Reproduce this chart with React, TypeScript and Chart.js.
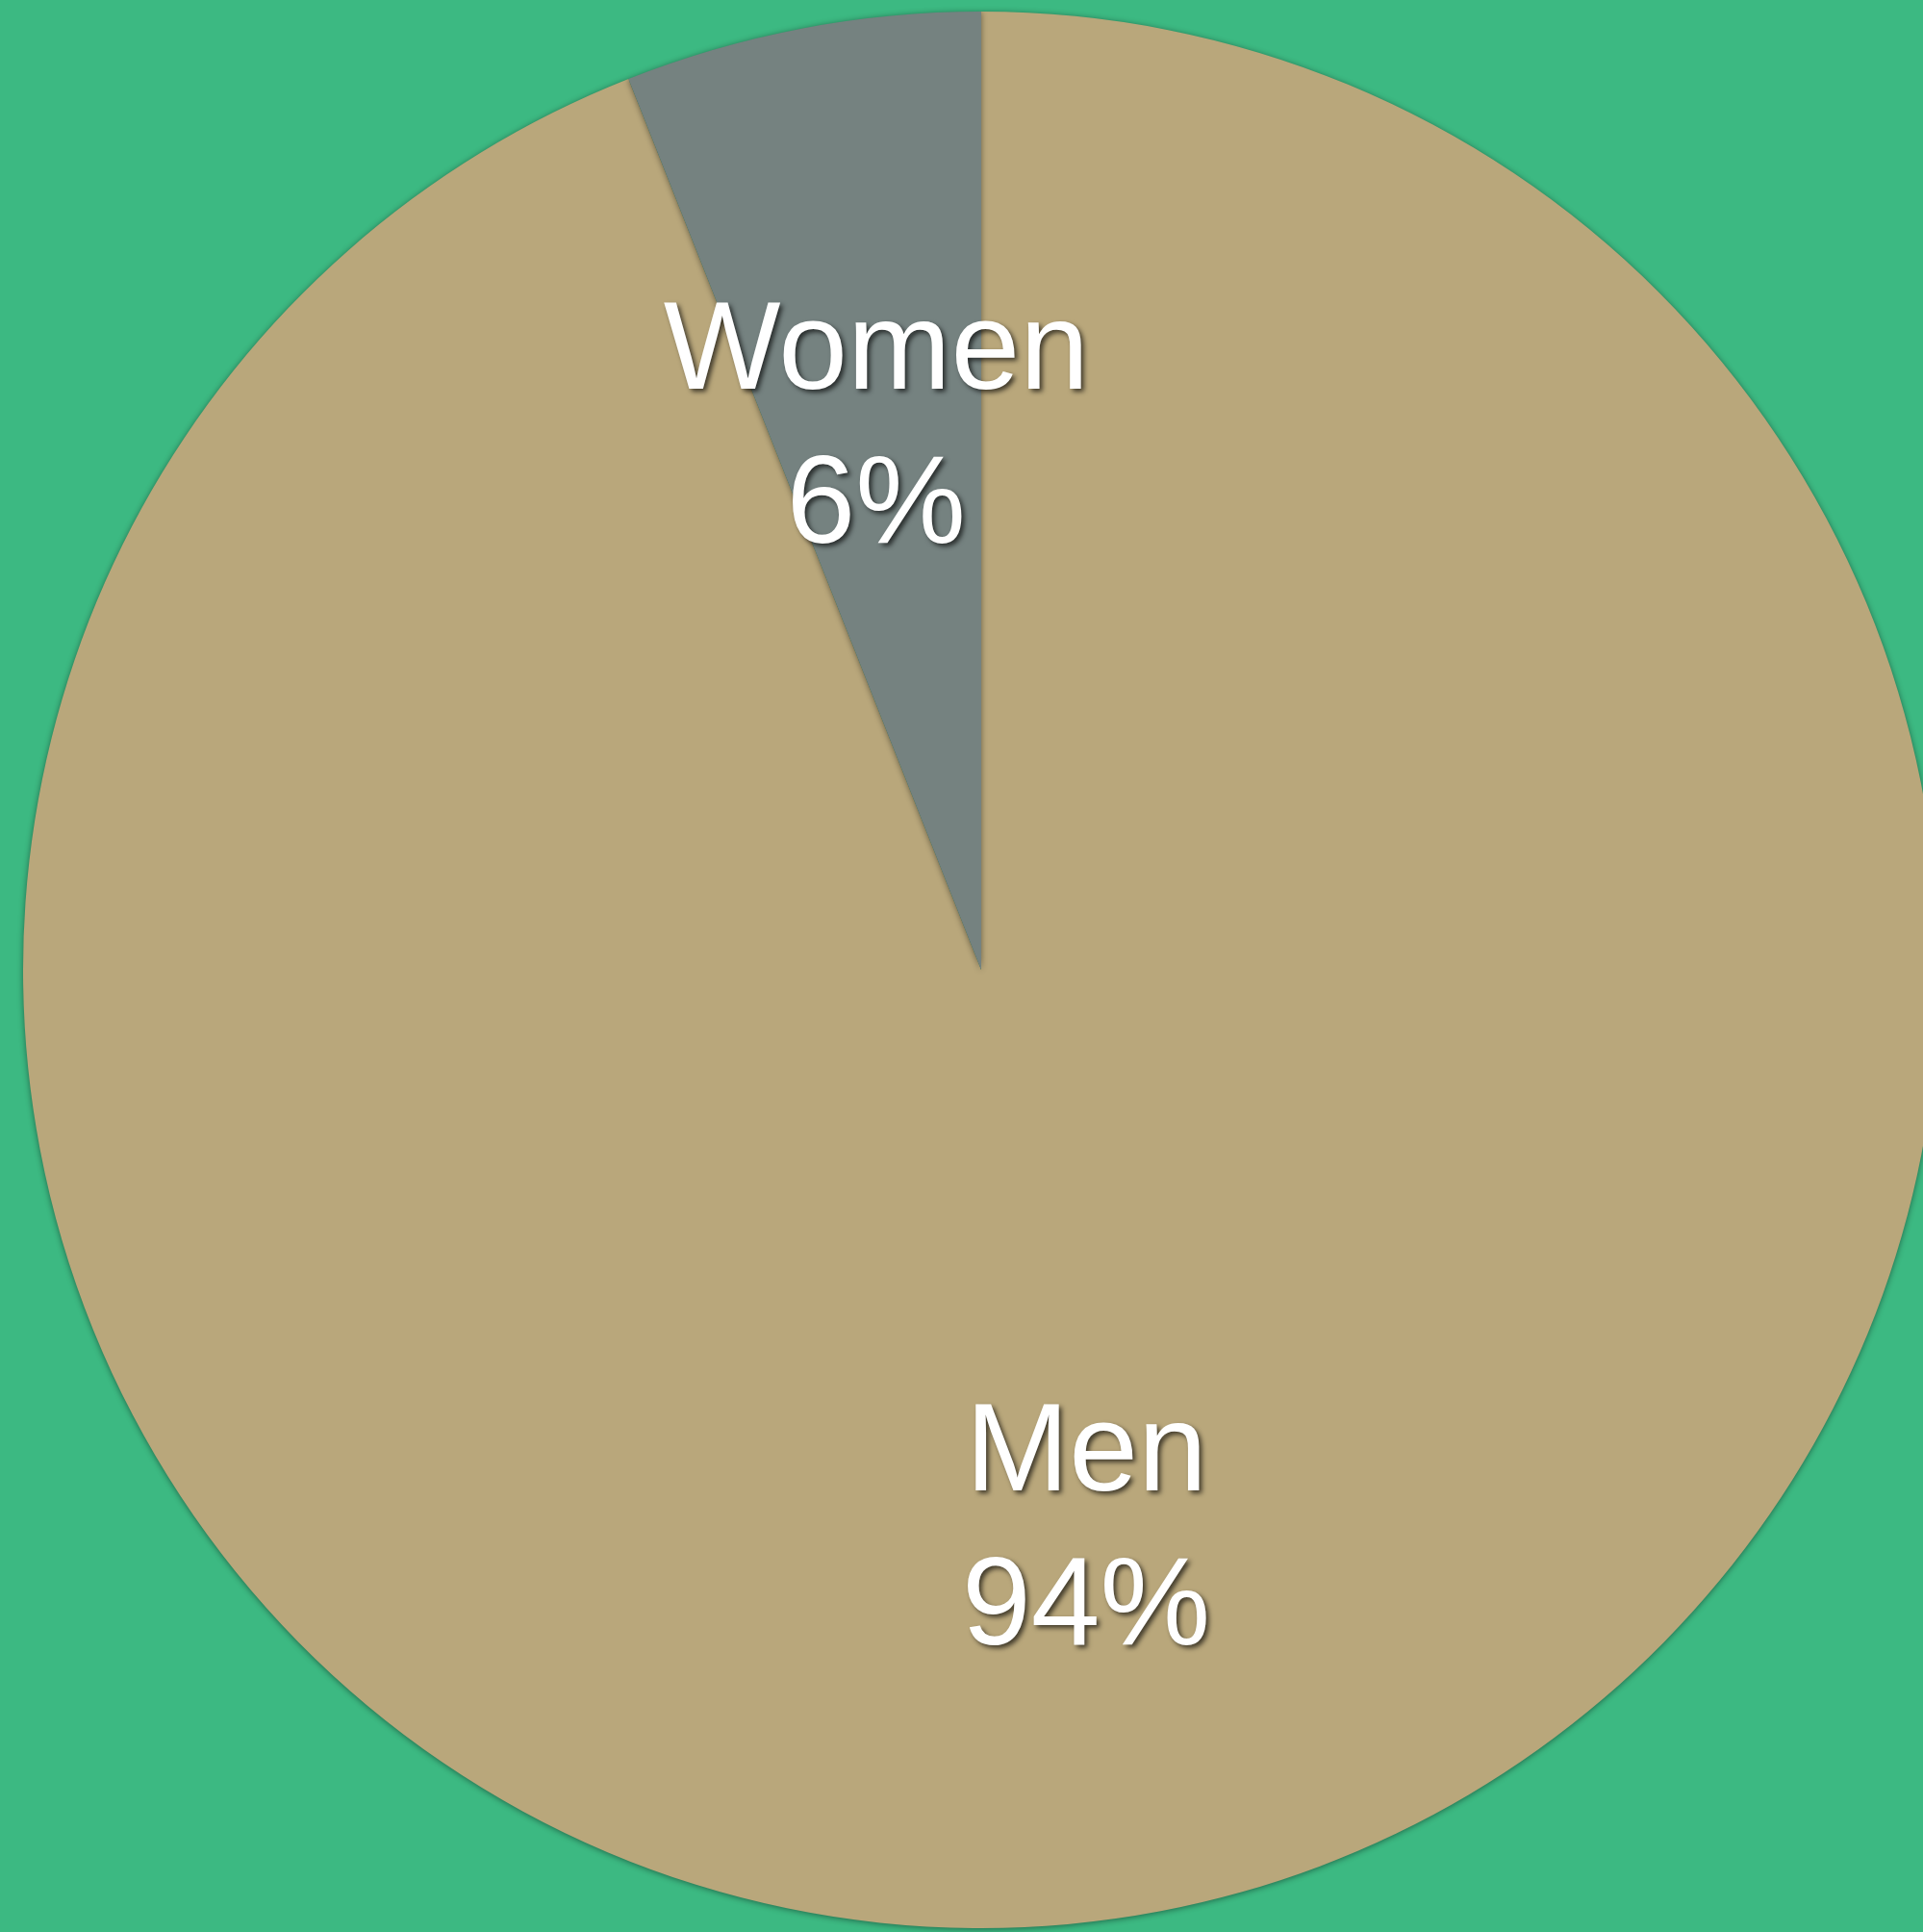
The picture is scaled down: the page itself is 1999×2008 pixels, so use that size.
import React, { useEffect, useRef } from "react";
import { Chart, registerables } from "chart.js";

Chart.register(...registerables);

const categories = ["Men", "Women"];
const values = [94, 6];
const percentLabels = ["94%", "6%"];
const sliceColors = ["#B9A77B", "#758280"];
const backgroundColor = "#3CB982";

const labelPlugin = {
  id: "sliceLabels",
  beforeDatasetsDraw(chart: any) {
    const ctx = chart.ctx;
    ctx.save();
    ctx.shadowColor = "rgba(0,0,0,0.45)";
    ctx.shadowBlur = 6;
    ctx.shadowOffsetX = 0;
    ctx.shadowOffsetY = 1;
  },
  afterDatasetsDraw(chart: any) {
    const ctx = chart.ctx;
    ctx.restore();
    const meta = chart.getDatasetMeta(0);
    ctx.save();
    ctx.font = "400 129px 'Liberation Sans', Arial, sans-serif";
    ctx.fillStyle = "#FFFFFF";
    ctx.textAlign = "center";
    ctx.textBaseline = "alphabetic";
    ctx.shadowColor = "rgba(0,0,0,0.65)";
    ctx.shadowBlur = 5;
    ctx.shadowOffsetX = 3;
    ctx.shadowOffsetY = 3;
    meta.data.forEach((arc: any, i: number) => {
      const p = arc.getProps(["x", "y", "startAngle", "endAngle", "outerRadius"], true);
      const mid = (p.startAngle + p.endAngle) / 2;
      const r = p.outerRadius * 0.585;
      const cx = p.x + Math.cos(mid) * r;
      const cy = p.y + Math.sin(mid) * r;
      ctx.fillText(categories[i], cx, cy - 31.5);
      ctx.fillText(percentLabels[i], cx, cy + 128.5);
    });
    ctx.restore();
  },
};

export default function App() {
  const ref = useRef<HTMLCanvasElement | null>(null);
  useEffect(() => {
    if (!ref.current) return;
    const chart = new Chart(ref.current, {
      type: "pie",
      data: {
        labels: categories,
        datasets: [
          {
            data: values,
            backgroundColor: sliceColors,
            borderWidth: 0,
            hoverOffset: 0,
            offset: 0,
          },
        ],
      },
      options: {
        responsive: false,
        animation: false,
        events: [],
        layout: { padding: { left: 12, right: 12, top: 12, bottom: 12 } },
        plugins: {
          legend: { display: false },
          tooltip: { enabled: false },
        },
      },
      plugins: [labelPlugin],
    });
    return () => chart.destroy();
  }, []);
  return (
    <div
      style={{
        position: "fixed",
        left: 0,
        top: 0,
        width: 1999,
        height: 2008,
        overflow: "hidden",
        background: backgroundColor,
      }}
    >
      <canvas
        ref={ref}
        width={2040}
        height={2016}
        style={{ width: 2040, height: 2016, display: "block" }}
      />
    </div>
  );
}
